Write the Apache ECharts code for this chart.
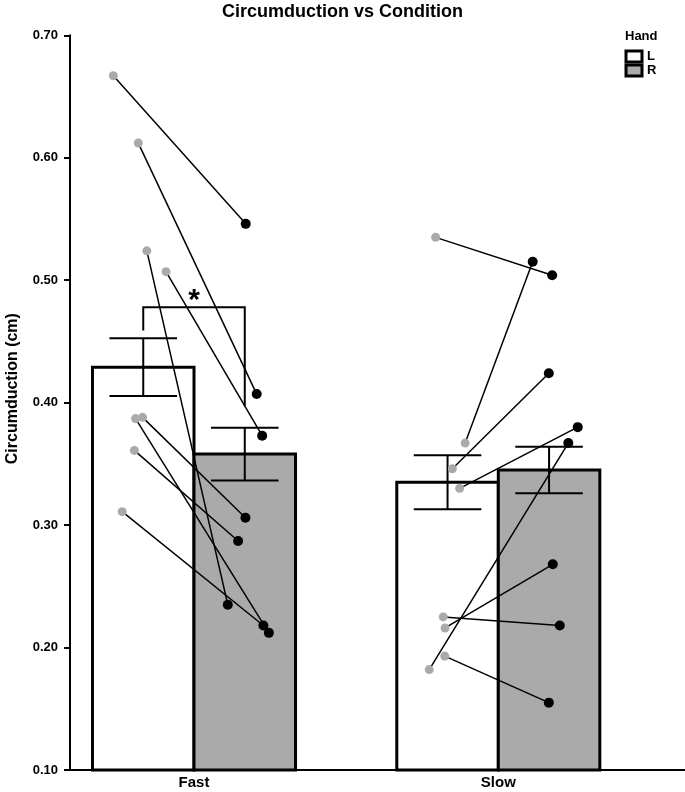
<!DOCTYPE html>
<html>
<head>
<meta charset="utf-8">
<script src="https://cdn.jsdelivr.net/npm/echarts@6/dist/echarts.min.js"></script>
<style>
  html, body { margin: 0; padding: 0; background: #fff; }
  #chart { width: 685px; height: 792px; }
</style>
</head>
<body>
<div id="chart"></div>
<script>
// ---------- data ----------
const categories = ['Fast', 'Slow'];
const meanL = [0.429, 0.335];
const meanR = [0.358, 0.345];
const errL = [0.0235, 0.022];
const errR = [0.0215, 0.019];

// individual subjects (L = left hand, R = right hand); x = jittered position on the category scale
const fastL  = [0.667, 0.612, 0.524, 0.507, 0.388, 0.387, 0.361, 0.311];
const fastR  = [0.546, 0.407, 0.235, 0.373, 0.306, 0.212, 0.287, 0.218];
const fastLX = [0.735, 0.817, 0.845, 0.908, 0.831, 0.808, 0.804, 0.764];
const fastRX = [1.170, 1.206, 1.111, 1.224, 1.169, 1.246, 1.145, 1.228];
const slowL  = [0.535, 0.367, 0.346, 0.330, 0.225, 0.216, 0.193, 0.182];
const slowR  = [0.504, 0.515, 0.424, 0.380, 0.218, 0.268, 0.155, 0.367];
const slowLX = [1.794, 1.891, 1.849, 1.873, 1.819, 1.825, 1.824, 1.773];
const slowRX = [2.177, 2.113, 2.166, 2.261, 2.202, 2.179, 2.166, 2.230];

// significance bracket (Fast L vs Fast R)
const sigTop = 0.478, sigLeftEnd = 0.459, sigRightEnd = 0.397;
const sigLabel = '*';

const yMin = 0.1, yMax = 0.7, yInterval = 0.1;

// ---------- build ----------
const FONT = '"Liberation Sans", Arial, Helvetica, sans-serif';
const BAR_W = 0.3336;     // bar width in x-axis units
const CAP_HALF = 0.111;   // half width of error caps in x-axis units

function barRender(side, fill) {
  return function (params, api) {
    const c = api.value(0), v = api.value(1), e = api.value(2);
    const x0 = side === 'L' ? c - BAR_W : c;
    const x1 = side === 'L' ? c : c + BAR_W;
    const xm = (x0 + x1) / 2;
    const pTop = api.coord([x0, v]);
    const pBot = api.coord([x1, yMin]);
    const eTop = api.coord([xm, v + e]);
    const eBot = api.coord([xm, v - e]);
    const capL = api.coord([xm - CAP_HALF, v])[0];
    const capR = api.coord([xm + CAP_HALF, v])[0];
    const ls = { stroke: '#000', lineWidth: 2 };
    return {
      type: 'group',
      children: [
        { type: 'rect', shape: { x: pTop[0], y: pTop[1], width: pBot[0] - pTop[0], height: pBot[1] - pTop[1] },
          style: { fill: fill, stroke: '#000', lineWidth: 3 } },
        { type: 'line', shape: { x1: eTop[0], y1: eTop[1], x2: eBot[0], y2: eBot[1] }, style: ls },
        { type: 'line', shape: { x1: capL, y1: eTop[1], x2: capR, y2: eTop[1] }, style: ls },
        { type: 'line', shape: { x1: capL, y1: eBot[1], x2: capR, y2: eBot[1] }, style: ls }
      ]
    };
  };
}

const barsL = categories.map((c, i) => [i + 1, meanL[i], errL[i]]);
const barsR = categories.map((c, i) => [i + 1, meanR[i], errR[i]]);

const ptsL = fastLX.map((x, i) => [x, fastL[i]]).concat(slowLX.map((x, i) => [x, slowL[i]]));
const ptsR = fastRX.map((x, i) => [x, fastR[i]]).concat(slowRX.map((x, i) => [x, slowR[i]]));
const pairs = ptsL.map((p, i) => ({ coords: [p, ptsR[i]] }));

const bracketData = [[1, sigTop, sigLeftEnd, sigRightEnd]];

const option = {
  animation: false,
  backgroundColor: '#fff',
  title: [
    { text: 'Circumduction vs Condition', left: 'center', top: 3, padding: 0,
      textStyle: { fontFamily: FONT, fontSize: 18, fontWeight: 'bold', color: '#000' } },
    { text: 'Hand', left: 625, top: 30, padding: 0,
      textStyle: { fontFamily: FONT, fontSize: 13, fontWeight: 'bold', color: '#000' } }
  ],
  legend: {
    orient: 'vertical', left: 624.5, top: 49.5, padding: 0, itemGap: 0,
    itemWidth: 16, itemHeight: 11, selectedMode: false,
    textStyle: { fontFamily: FONT, fontSize: 13, fontWeight: 'bold', color: '#000' },
    data: [
      { name: 'L', icon: 'rect', itemStyle: { color: '#ffffff', borderColor: '#000', borderWidth: 3 } },
      { name: 'R', icon: 'rect', itemStyle: { color: '#aaaaaa', borderColor: '#000', borderWidth: 3 } }
    ]
  },
  grid: { left: 70, right: 0, top: 35.3, bottom: 22, outerBoundsMode: 'none' },
  xAxis: {
    type: 'value', min: 0.5925, max: 2.6135,
    axisLine: { show: true, lineStyle: { color: '#000', width: 2 } },
    axisTick: { show: false },
    splitLine: { show: false },
    axisLabel: {
      customValues: [1, 2],
      formatter: v => categories[Math.round(v) - 1] || '',
      fontFamily: FONT, fontSize: 15, fontWeight: 'bold', color: '#000', margin: 5
    }
  },
  yAxis: {
    type: 'value', min: yMin, max: yMax, interval: yInterval,
    name: 'Circumduction (cm)', nameLocation: 'middle', nameGap: 49,
    nameTextStyle: { fontFamily: FONT, fontSize: 16, fontWeight: 'bold', color: '#000', padding: [0, 0, 0, 28] },
    axisLine: { show: true, lineStyle: { color: '#000', width: 2 } },
    axisTick: { show: true, length: 6, lineStyle: { color: '#000', width: 2 } },
    splitLine: { show: false },
    axisLabel: { formatter: v => v.toFixed(2), fontFamily: FONT, fontSize: 13, fontWeight: 'bold', color: '#000', margin: 12 }
  },
  series: [
    { name: 'L', type: 'custom', renderItem: barRender('L', '#ffffff'), data: barsL, z: 2,
      itemStyle: { color: '#ffffff', borderColor: '#000' } },
    { name: 'R', type: 'custom', renderItem: barRender('R', '#aaaaaa'), data: barsR, z: 2,
      itemStyle: { color: '#aaaaaa', borderColor: '#000' } },
    { name: 'bracket', type: 'custom', z: 3, data: bracketData,
      renderItem: function (params, api) {
        const c = api.value(0);
        const xl = c - BAR_W / 2, xr = c + BAR_W / 2;
        const pl = api.coord([xl, api.value(1)]);
        const pr = api.coord([xr, api.value(1)]);
        const pl2 = api.coord([xl, api.value(2)]);
        const pr2 = api.coord([xr, api.value(3)]);
        const pc = api.coord([c, api.value(1)]);
        return {
          type: 'group',
          children: [
            { type: 'polyline', shape: { points: [pl2, pl, pr, pr2] },
              style: { stroke: '#000', lineWidth: 2, fill: null } },
            { type: 'text', x: pc[0], y: pc[1] + 9,
              style: { text: sigLabel, fontFamily: FONT, fontSize: 30, fontWeight: 'bold', fill: '#000',
                       align: 'center', verticalAlign: 'bottom' } }
          ]
        };
      } },
    { name: 'pairs', type: 'lines', coordinateSystem: 'cartesian2d', z: 4, data: pairs,
      lineStyle: { color: '#000', width: 1.5, opacity: 1, curveness: 0 }, symbol: 'none' },
    { name: 'L subjects', type: 'scatter', z: 5, data: ptsL, symbolSize: 9,
      itemStyle: { color: '#aaaaaa', opacity: 1 } },
    { name: 'R subjects', type: 'scatter', z: 5, data: ptsR, symbolSize: 10,
      itemStyle: { color: '#000000', opacity: 1 } }
  ]
};

const chart = echarts.init(document.getElementById('chart'));
chart.setOption(option);
</script>
</body>
</html>
